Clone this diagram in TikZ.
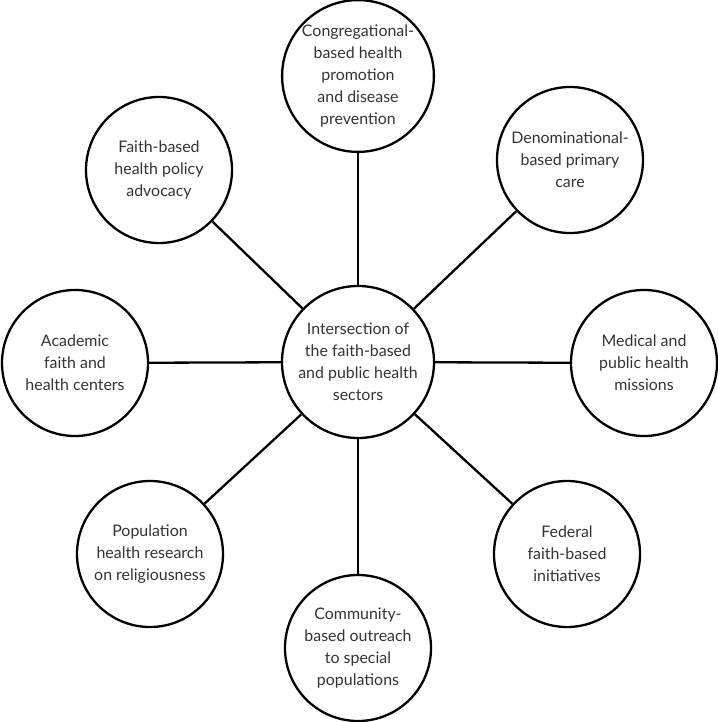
\documentclass[tikz,border=0pt]{standalone}
\usepackage{fontspec}
\setmainfont{Lato}
\begin{document}
\begin{tikzpicture}[x=1bp,y=-1bp,
  hub/.style={circle,draw,line width=2.3bp,minimum size=152bp,inner sep=0pt,align=center,
    font=\fontsize{16}{22}\selectfont,text=black!80},
  spoke/.style={hub,minimum size=146bp},
  link/.style={line width=2.3bp}]
\useasboundingbox (0,0) rectangle (718,722);
% centre of the wheel
\node[hub] (sector) at (358,362) {Intersection of\\the faith-based\\and public health\\sectors};
% outer circles and their spokes
\foreach \name/\x/\y/\lab in {
  congr/358/76/{Congregational-\\based health\\promotion\\and disease\\prevention},
  denom/570/160/{Denominational-\\based primary\\care},
  missions/644/363/{Medical and\\public health\\missions},
  federal/567/554/{Federal\\faith-based\\initiatives},
  outreach/358/648/{Community-\\based outreach\\to special\\populations},
  research/150/554/{Population\\health research\\on religiousness},
  academic/75/363/{Academic\\faith and\\health centers},
  advocacy/159/170/{Faith-based\\health policy\\advocacy}} {
  \node[spoke] (\name) at (\x,\y) {\lab};
  \draw[link] (sector) -- (\name);
}
\end{tikzpicture}
\end{document}
